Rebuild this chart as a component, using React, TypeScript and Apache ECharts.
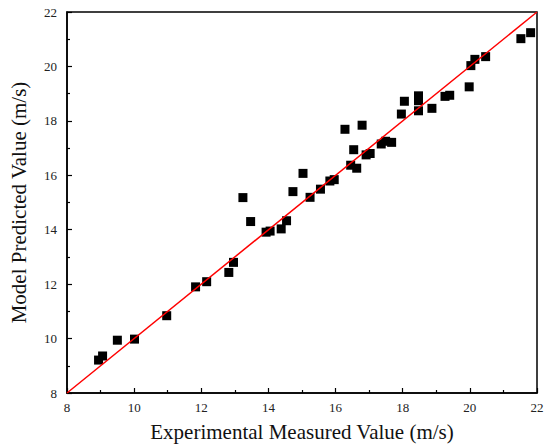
import React, { useEffect, useRef } from "react";
import * as echarts from "echarts";

const measured = [
  8.94, 9.06, 9.5, 10.01, 10.97, 11.83, 12.16, 12.82, 12.96,
  13.24, 13.47, 13.93, 14.05, 14.38, 14.54, 14.73, 15.03, 15.24, 15.55, 15.83, 15.96,
  16.28, 16.79, 16.54, 16.45, 16.63, 16.91, 17.03, 17.36, 17.49, 17.67,
  17.96, 18.05, 18.47, 18.47, 18.47, 18.87, 19.26, 19.4, 19.98, 20.03, 20.15, 20.47,
  21.52, 21.81,
];
const predicted = [
  9.21, 9.36, 9.94, 9.98, 10.84, 11.9, 12.09, 12.43, 12.8,
  15.18, 14.3, 13.91, 13.95, 14.03, 14.33, 15.4, 16.07, 15.19, 15.49, 15.79, 15.84,
  17.69, 17.84, 16.94, 16.37, 16.26, 16.75, 16.8, 17.15, 17.25, 17.21,
  18.25, 18.72, 18.37, 18.74, 18.92, 18.46, 18.9, 18.94, 19.25, 20.03, 20.26, 20.36,
  21.02, 21.24,
];
const fitLine = [8, 22];
const axisMin = 8;
const axisMax = 22;
const axisStep = 2;

export default function App() {
  const ref = useRef<HTMLDivElement>(null);
  useEffect(() => {
    document.body.style.margin = "0";
    if (!ref.current) return;
    const chart = echarts.init(ref.current, null, { renderer: "svg" });
    const font = "Liberation Serif";
    const axisCommon = {
      type: "value" as const,
      min: axisMin,
      max: axisMax,
      interval: axisStep,
      nameLocation: "middle" as const,
      nameTextStyle: { fontFamily: font, fontSize: 21, color: "#111" },
      axisLine: { show: true, lineStyle: { color: "#000", width: 1.5 } },
      axisTick: { show: true, inside: true, length: 5, lineStyle: { color: "#000", width: 1.2 } },
      minorTick: { show: true, splitNumber: 2, length: 3, lineStyle: { color: "#000", width: 1.2 } },
      axisLabel: { fontFamily: font, fontSize: 13, color: "#222" },
      splitLine: { show: false },
    };
    chart.setOption({
      animation: false,
      backgroundColor: "#fff",
      textStyle: { fontFamily: font },
      grid: {
        left: 65,
        right: 13,
        top: 12,
        bottom: 55,
        show: true,
        borderColor: "#000",
        borderWidth: 1.5,
      },
      xAxis: {
        ...axisCommon,
        name: "Experimental Measured Value (m/s)",
        nameGap: 28,
        axisLabel: { ...axisCommon.axisLabel, margin: 8 },
      },
      yAxis: {
        ...axisCommon,
        name: "Model Predicted Value (m/s)",
        nameGap: 38,
        axisLabel: { ...axisCommon.axisLabel, margin: 10 },
      },
      series: [
        {
          type: "line",
          data: fitLine.map((v) => [v, v]),
          symbol: "none",
          lineStyle: { color: "#ff0000", width: 1.5 },
          z: 3,
        },
        {
          type: "scatter",
          data: measured.map((m, i) => [m, predicted[i]]),
          symbol: "rect",
          symbolSize: 9,
          itemStyle: { color: "#000", opacity: 1 },
          z: 2,
        },
      ],
    });
    return () => chart.dispose();
  }, []);
  return <div ref={ref} style={{ width: 550, height: 448 }} />;
}
